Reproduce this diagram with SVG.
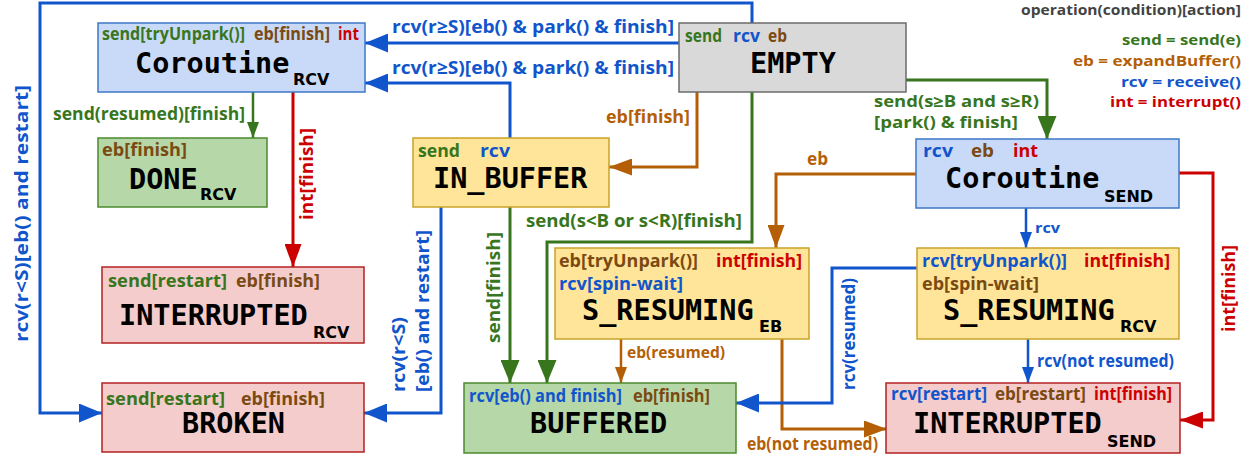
<svg xmlns="http://www.w3.org/2000/svg" width="1251" height="461" viewBox="0 0 1251 461">
<style>
.n rect{stroke-width:1.5}
.blueN{fill:#c9daf8;stroke:#3d78c6}
.grayN{fill:#d9d9d9;stroke:#6b6b6b}
.yelN{fill:#ffe599;stroke:#c9a227}
.grnN{fill:#b6d7a8;stroke:#4b8a2e}
.redN{fill:#f4cccc;stroke:#b22222}
.t{font-family:"DejaVu Sans Mono",monospace;font-weight:bold;font-size:28.5px;fill:#000}
.sub{font-family:"DejaVu Sans",sans-serif;font-weight:bold;font-size:16px;fill:#000}
.l{font-family:"Open Sans","DejaVu Sans",sans-serif;font-weight:bold;font-size:17px}
.l2{font-family:"Open Sans","DejaVu Sans",sans-serif;font-weight:bold;font-size:18.5px}
.lg{font-family:"Open Sans","DejaVu Sans",sans-serif;font-weight:bold;font-size:14.5px}
.c{font-family:"Open Sans","DejaVu Sans",sans-serif;font-weight:bold;font-size:18px}
.g{fill:#38761d}.b{fill:#1155cc}.o{fill:#b45f06}.br{fill:#7a4a12}.r{fill:#cc0000}.k{fill:#434343}
.e{fill:none;stroke-width:3}
.th{stroke-width:2.5}
.sb{stroke:#1155cc}.sg{stroke:#38761d}.so{stroke:#b45f06}.sr{stroke:#cc0000}
</style>
<defs>
<marker id="ab" markerUnits="userSpaceOnUse" markerWidth="23" markerHeight="19" refX="23" refY="9.5" orient="auto"><path d="M0,0L23,9.5L0,19z" fill="#1155cc"/></marker>
<marker id="ag" markerUnits="userSpaceOnUse" markerWidth="23" markerHeight="19" refX="23" refY="9.5" orient="auto"><path d="M0,0L23,9.5L0,19z" fill="#38761d"/></marker>
<marker id="ao" markerUnits="userSpaceOnUse" markerWidth="23" markerHeight="17" refX="23" refY="8.5" orient="auto"><path d="M0,0L23,8.5L0,17z" fill="#b45f06"/></marker>
<marker id="ar" markerUnits="userSpaceOnUse" markerWidth="23" markerHeight="17" refX="23" refY="8.5" orient="auto"><path d="M0,0L23,8.5L0,17z" fill="#cc0000"/></marker>
<marker id="sb" markerUnits="userSpaceOnUse" markerWidth="16" markerHeight="12" refX="16" refY="6" orient="auto"><path d="M0,0L16,6L0,12z" fill="#1155cc"/></marker>
<marker id="sg" markerUnits="userSpaceOnUse" markerWidth="16" markerHeight="12" refX="16" refY="6" orient="auto"><path d="M0,0L16,6L0,12z" fill="#38761d"/></marker>
<marker id="so" markerUnits="userSpaceOnUse" markerWidth="16" markerHeight="12" refX="16" refY="6" orient="auto"><path d="M0,0L16,6L0,12z" fill="#b45f06"/></marker>
</defs>

<g id="connectors">
<path class="e sb" d="M752,23V3H40V413H102" marker-end="url(#ab)"/>
<path class="e sb" d="M679,43H365" marker-end="url(#ab)"/>
<path class="e sb" d="M510,138V83H365" marker-end="url(#ab)"/>
<path class="e so" d="M697,92V167H609" marker-end="url(#ao)"/>
<path class="e sg" d="M752,92V242H547V383" marker-end="url(#ag)"/>
<path class="e sg" d="M510,207V383" marker-end="url(#ag)"/>
<path class="e sb" d="M441,207V413H364" marker-end="url(#ab)"/>
<path class="e sg th" d="M253,92V138" marker-end="url(#sg)"/>
<path class="e sr" d="M293,92V267" marker-end="url(#ar)"/>
<path class="e sg" d="M906,80H1047V139" marker-end="url(#ag)"/>
<path class="e so" d="M916,174H776V248" marker-end="url(#ao)"/>
<path class="e sb th" d="M1026,208V248" marker-end="url(#sb)"/>
<path class="e sr" d="M1179,173H1213V420H1180" marker-end="url(#ar)"/>
<path class="e so th" d="M621,339V383" marker-end="url(#so)"/>
<path class="e so" d="M782,339V429H887" marker-end="url(#ao)"/>
<path class="e sb" d="M917,268H832V403H736" marker-end="url(#ab)"/>
<path class="e sb th" d="M1028,339V383" marker-end="url(#sb)"/>

<text class="c b" transform="translate(28,342) rotate(-90)" textLength="257" lengthAdjust="spacingAndGlyphs">rcv(r&lt;S)[eb() and restart]</text>
<text class="c b" x="392" y="33" textLength="282" lengthAdjust="spacingAndGlyphs">rcv(r≥S)[eb() &amp; park() &amp; finish]</text>
<text class="c b" x="392" y="74" textLength="282" lengthAdjust="spacingAndGlyphs">rcv(r≥S)[eb() &amp; park() &amp; finish]</text>
<text class="c o" x="606" y="123" textLength="84" lengthAdjust="spacingAndGlyphs">eb[finish]</text>
<text class="c g" x="53" y="120" textLength="192" lengthAdjust="spacingAndGlyphs">send(resumed)[finish]</text>
<text class="c r" transform="translate(313,220) rotate(-90)" textLength="92" lengthAdjust="spacingAndGlyphs">int[finish]</text>
<text class="c g" x="526" y="227" textLength="216" lengthAdjust="spacingAndGlyphs">send(s&lt;B or s&lt;R)[finish]</text>
<text class="c g" transform="translate(500,343) rotate(-90)" textLength="111" lengthAdjust="spacingAndGlyphs">send[finish]</text>
<text class="c b" transform="translate(405,392) rotate(-90)" textLength="75" lengthAdjust="spacingAndGlyphs">rcv(r&lt;S)</text>
<text class="c b" transform="translate(429,392) rotate(-90)" textLength="162" lengthAdjust="spacingAndGlyphs">[eb() and restart]</text>
<text class="c g" x="874" y="107" style="font-size:15.5px" textLength="165" lengthAdjust="spacingAndGlyphs">send(s≥B and s≥R)</text>
<text class="c g" x="874" y="128" style="font-size:15.5px" textLength="144" lengthAdjust="spacingAndGlyphs">[park() &amp; finish]</text>
<text class="c o" x="807" y="165" textLength="21" lengthAdjust="spacingAndGlyphs">eb</text>
<text class="c b" x="1035" y="233" style="font-size:15px" textLength="25" lengthAdjust="spacingAndGlyphs">rcv</text>
<text class="c r" transform="translate(1235,332) rotate(-90)" textLength="87" lengthAdjust="spacingAndGlyphs">int[finish]</text>
<text class="c o" x="627" y="358" style="font-size:16px" textLength="98" lengthAdjust="spacingAndGlyphs">eb(resumed)</text>
<text class="c o" x="747" y="450" style="font-size:17px" textLength="131" lengthAdjust="spacingAndGlyphs">eb(not resumed)</text>
<text class="c b" transform="translate(855,390) rotate(-90)" style="font-size:17px" textLength="112" lengthAdjust="spacingAndGlyphs">rcv(resumed)</text>
<text class="c b" x="1037" y="367" style="font-size:17px" textLength="137" lengthAdjust="spacingAndGlyphs">rcv(not resumed)</text>
</g>

<g id="legend">
<text class="lg k" x="1021" y="15" textLength="220" lengthAdjust="spacingAndGlyphs">operation(condition)[action]</text>
<text class="lg g" x="1122" y="45" textLength="119" lengthAdjust="spacingAndGlyphs">send = send(e)</text>
<text class="lg o" x="1073" y="66" textLength="168" lengthAdjust="spacingAndGlyphs">eb = expandBuffer()</text>
<text class="lg b" x="1121" y="87" textLength="120" lengthAdjust="spacingAndGlyphs">rcv = receive()</text>
<text class="lg r" x="1110" y="107" textLength="131" lengthAdjust="spacingAndGlyphs">int = interrupt()</text>
</g>

<g id="coroutine-rcv" class="n">
<rect class="blueN" x="98" y="23" width="267" height="69"/>
<text class="l g" x="102" y="40" textLength="143" lengthAdjust="spacingAndGlyphs">send[tryUnpark()]</text>
<text class="l br" x="254" y="40" textLength="76" lengthAdjust="spacingAndGlyphs">eb[finish]</text>
<text class="l r" x="338" y="40" textLength="21" lengthAdjust="spacingAndGlyphs">int</text>
<text class="t" x="135" y="73">Coroutine</text><text class="sub" x="293" y="85">RCV</text>
</g>
<g id="empty" class="n">
<rect class="grayN" x="679" y="23" width="227" height="69"/>
<text class="l2 g" x="685" y="42" textLength="37" lengthAdjust="spacingAndGlyphs">send</text>
<text class="l2 b" x="733" y="42" textLength="27" lengthAdjust="spacingAndGlyphs">rcv</text>
<text class="l2 br" x="768" y="42" textLength="19" lengthAdjust="spacingAndGlyphs">eb</text>
<text class="t" x="750" y="73">EMPTY</text>
</g>
<g id="done-rcv" class="n">
<rect class="grnN" x="98" y="138" width="169" height="69"/>
<text class="l2 br" x="102" y="156" textLength="85" lengthAdjust="spacingAndGlyphs">eb[finish]</text>
<text class="t" x="129" y="189">DONE</text><text class="sub" x="200" y="200">RCV</text>
</g>
<g id="in-buffer" class="n">
<rect class="yelN" x="413" y="138" width="196" height="69"/>
<text class="l2 g" x="418" y="157" textLength="42" lengthAdjust="spacingAndGlyphs">send</text>
<text class="l2 b" x="480" y="157" textLength="30" lengthAdjust="spacingAndGlyphs">rcv</text>
<text class="t" x="433" y="188">IN_BUFFER</text>
</g>
<g id="coroutine-send" class="n">
<rect class="blueN" x="916" y="139" width="263" height="69"/>
<text class="l2 b" x="923" y="157" textLength="30" lengthAdjust="spacingAndGlyphs">rcv</text>
<text class="l2 br" x="971" y="157" textLength="23" lengthAdjust="spacingAndGlyphs">eb</text>
<text class="l2 r" x="1013" y="157" textLength="25" lengthAdjust="spacingAndGlyphs">int</text>
<text class="t" x="945" y="188">Coroutine</text><text class="sub" x="1104" y="202">SEND</text>
</g>
<g id="interrupted-rcv" class="n">
<rect class="redN" x="102" y="267" width="262" height="76"/>
<text class="l2 g" x="108" y="287" textLength="119" lengthAdjust="spacingAndGlyphs">send[restart]</text>
<text class="l2 br" x="236" y="287" textLength="84" lengthAdjust="spacingAndGlyphs">eb[finish]</text>
<text class="t" x="119" y="325">INTERRUPTED</text><text class="sub" x="313" y="338">RCV</text>
</g>
<g id="s-resuming-eb" class="n">
<rect class="yelN" x="555" y="248" width="254" height="91"/>
<text class="l2 br" x="559" y="267" textLength="139" lengthAdjust="spacingAndGlyphs">eb[tryUnpark()]</text>
<text class="l2 r" x="716" y="267" textLength="86" lengthAdjust="spacingAndGlyphs">int[finish]</text>
<text class="l2 b" x="559" y="290" textLength="124" lengthAdjust="spacingAndGlyphs">rcv[spin-wait]</text>
<text class="t" x="582" y="320">S_RESUMING</text><text class="sub" x="759" y="332">EB</text>
</g>
<g id="s-resuming-rcv" class="n">
<rect class="yelN" x="917" y="248" width="262" height="91"/>
<text class="l2 b" x="922" y="267" textLength="145" lengthAdjust="spacingAndGlyphs">rcv[tryUnpark()]</text>
<text class="l2 r" x="1084" y="267" textLength="86" lengthAdjust="spacingAndGlyphs">int[finish]</text>
<text class="l2 br" x="922" y="290" textLength="117" lengthAdjust="spacingAndGlyphs">eb[spin-wait]</text>
<text class="t" x="943" y="320">S_RESUMING</text><text class="sub" x="1120" y="332">RCV</text>
</g>
<g id="broken" class="n">
<rect class="redN" x="102" y="383" width="262" height="69"/>
<text class="l2 g" x="106" y="405" textLength="119" lengthAdjust="spacingAndGlyphs">send[restart]</text>
<text class="l2 br" x="241" y="405" textLength="84" lengthAdjust="spacingAndGlyphs">eb[finish]</text>
<text class="t" x="182" y="433">BROKEN</text>
</g>
<g id="buffered" class="n">
<rect class="grnN" x="464" y="383" width="272" height="70"/>
<text class="l b" x="469" y="402" textLength="153" lengthAdjust="spacingAndGlyphs">rcv[eb() and finish]</text>
<text class="l br" x="633" y="402" textLength="77" lengthAdjust="spacingAndGlyphs">eb[finish]</text>
<text class="t" x="530" y="433">BUFFERED</text>
</g>
<g id="interrupted-send" class="n">
<rect class="redN" x="886" y="383" width="294" height="70"/>
<text class="l b" x="891" y="400" textLength="96" lengthAdjust="spacingAndGlyphs">rcv[restart]</text>
<text class="l br" x="995" y="400" textLength="91" lengthAdjust="spacingAndGlyphs">eb[restart]</text>
<text class="l r" x="1094" y="400" textLength="78" lengthAdjust="spacingAndGlyphs">int[finish]</text>
<text class="t" x="913" y="433">INTERRUPTED</text><text class="sub" x="1107" y="447">SEND</text>
</g>
</svg>
